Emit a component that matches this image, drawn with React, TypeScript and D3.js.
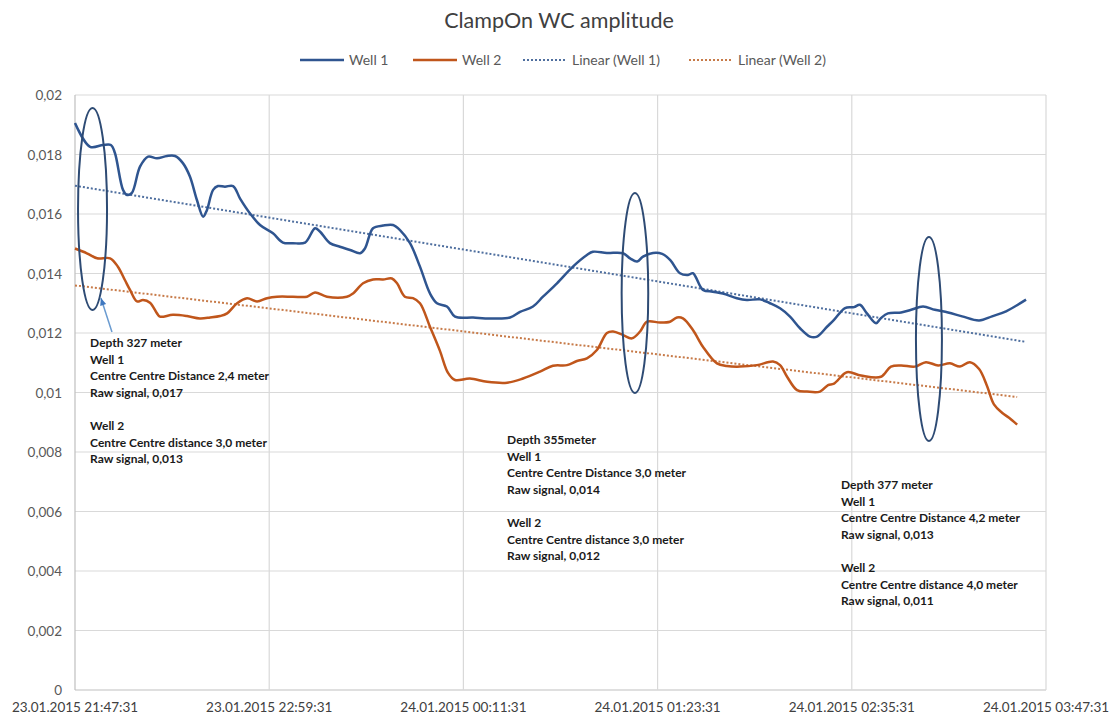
import React from "react";
import * as d3 from "d3";

const START = "23.01.2015 21:47:31";
const xTickLabels = [
  "23.01.2015 21:47:31",
  "23.01.2015 22:59:31",
  "24.01.2015 00:11:31",
  "24.01.2015 01:23:31",
  "24.01.2015 02:35:31",
  "24.01.2015 03:47:31",
];
const yTicks = [0, 0.002, 0.004, 0.006, 0.008, 0.01, 0.012, 0.014, 0.016, 0.018, 0.02];
const yTickLabels = ["0", "0,002", "0,004", "0,006", "0,008", "0,01", "0,012", "0,014", "0,016", "0,018", "0,02"];

// minutes after start
const well1Min = [0, 5.6, 10.4, 13.3, 14.8, 17.8, 19.3, 21.1, 24.1, 27.1, 30.4, 34.1, 37.1, 40, 42.6, 45.2, 47.5, 48.9, 51.2, 53, 55.6, 58.6, 61.2, 64.9, 68.6, 73.4, 77.1, 80.8, 85.3, 89, 90.8, 94.5, 98.2, 102, 105.7, 107.5, 110.5, 114.2, 117.9, 120.5, 124.2, 127.9, 131.6, 134.2, 137.9, 140.9, 147.6, 153.9, 161.3, 165, 169.8, 173.5, 178.7, 184.6, 189.8, 192, 197.2, 203.2, 205.8, 208.4, 210.6, 214.3, 217.7, 220.7, 224.3, 227.3, 229.1, 232.8, 236.5, 240.2, 245.4, 249.1, 254, 257.7, 261.4, 265.1, 268.8, 272.5, 275.1, 278.8, 281.4, 285.5, 288.8, 291, 293.6, 297, 298.8, 301.4, 306.3, 310, 314.4, 318.8, 323.7, 328.9, 335.2, 340, 345.2, 352.6];
const well1Val = [0.01906, 0.01826, 0.01832, 0.01832, 0.01805, 0.01681, 0.01664, 0.01671, 0.01759, 0.01793, 0.01787, 0.01795, 0.01795, 0.01771, 0.01726, 0.01647, 0.01591, 0.01613, 0.01681, 0.01694, 0.01692, 0.01694, 0.01652, 0.01602, 0.01563, 0.01535, 0.01504, 0.01502, 0.01504, 0.01552, 0.01541, 0.01502, 0.0149, 0.01479, 0.01468, 0.01484, 0.01552, 0.01561, 0.01563, 0.01546, 0.01502, 0.01423, 0.01333, 0.013, 0.01289, 0.01255, 0.01252, 0.01249, 0.01252, 0.01271, 0.01289, 0.01322, 0.01367, 0.01423, 0.01462, 0.01473, 0.01469, 0.01468, 0.01451, 0.0144, 0.01457, 0.01469, 0.01466, 0.01445, 0.01401, 0.01395, 0.01401, 0.01345, 0.01339, 0.01333, 0.01317, 0.01311, 0.01313, 0.013, 0.01283, 0.01255, 0.01216, 0.01188, 0.01188, 0.01221, 0.01244, 0.01284, 0.01287, 0.01295, 0.01266, 0.01233, 0.0125, 0.01266, 0.01269, 0.01278, 0.01289, 0.01278, 0.01269, 0.01256, 0.01242, 0.01256, 0.01273, 0.01312];

const well2Min = [0, 4.4, 8.2, 13, 15.9, 18.5, 20.4, 23, 25.2, 27.8, 30.4, 31.5, 36.3, 41.5, 46.3, 50.1, 53.8, 56.4, 60.1, 63.8, 67.5, 71.2, 74.9, 80.8, 86, 89, 93.4, 100.8, 103.1, 106.8, 110.5, 114.2, 117.5, 119.4, 122.3, 125.3, 127.9, 131.6, 135.3, 138.3, 140.9, 146.4, 152.8, 160.2, 166.1, 172.4, 177.2, 182.4, 186.1, 189.8, 193.5, 197.2, 199.5, 203.2, 206.5, 209.5, 212.1, 216.9, 220.6, 223.2, 225.4, 229.1, 232.8, 238, 241.7, 246.5, 252.8, 258.8, 261.4, 264, 267.7, 271.4, 276.2, 279.2, 281.4, 286.2, 291.4, 298.8, 302.5, 306.3, 311.4, 315.5, 320, 324.4, 328.1, 331.8, 335.2, 338.1, 340.7, 343.7, 346.3, 349.3];
const well2Val = [0.01484, 0.01468, 0.01451, 0.01451, 0.01423, 0.01378, 0.01345, 0.01306, 0.01311, 0.01302, 0.01266, 0.01255, 0.01261, 0.01257, 0.01249, 0.01252, 0.01257, 0.01266, 0.013, 0.01317, 0.01306, 0.01317, 0.01322, 0.01322, 0.01322, 0.01336, 0.01322, 0.01322, 0.01333, 0.01367, 0.0138, 0.0138, 0.01383, 0.01367, 0.01322, 0.01317, 0.013, 0.01221, 0.0114, 0.01066, 0.01042, 0.01047, 0.01036, 0.01033, 0.01047, 0.0107, 0.0109, 0.01092, 0.01106, 0.01115, 0.01143, 0.012, 0.01205, 0.01193, 0.01182, 0.01205, 0.01238, 0.01235, 0.01238, 0.01252, 0.01249, 0.0121, 0.01154, 0.01098, 0.01089, 0.01087, 0.01092, 0.01104, 0.01092, 0.01053, 0.01008, 0.01003, 0.01003, 0.01025, 0.0103, 0.01068, 0.01057, 0.01053, 0.01087, 0.01091, 0.01087, 0.01102, 0.01091, 0.01098, 0.01087, 0.01102, 0.01079, 0.01023, 0.0096, 0.00932, 0.00915, 0.00892];

// linear trend endpoints [start, end]
const trend1Min = [0, 352.6];
const trend1Val = [0.01695, 0.0117];
const trend2Min = [0, 349.3];
const trend2Val = [0.0136, 0.00985];

const seriesNames = ["Well 1", "Well 2", "Linear (Well 1)", "Linear (Well 2)"];

// annotation ellipses: centre (minute, value), half-height in value units
const ellMin = [6.5, 207.6, 316.6];
const ellVal = [0.01617, 0.013345, 0.011798];
const ellHalfVal = [0.003395, 0.003361, 0.003429];

const noteMin = [5.6, 160.2, 284];
const noteVal = [0.01153, 0.00827, 0.006756];
const notes = [
  ["Depth 327 meter", "Well 1", "Centre Centre Distance 2,4 meter", "Raw signal, 0,017", "", "Well 2", "Centre Centre distance 3,0 meter", "Raw signal, 0,013"],
  ["Depth 355meter", "Well 1", "Centre Centre Distance 3,0 meter", "Raw signal, 0,014", "", "Well 2", "Centre Centre distance 3,0 meter", "Raw signal, 0,012"],
  ["Depth 377 meter", "Well 1", "Centre Centre Distance 4,2 meter", "Raw signal, 0,013", "", "Well 2", "Centre Centre distance 4,0 meter", "Raw signal, 0,011"],
];
const arrowMin = [13.7, 9.6];
const arrowVal = [0.012034, 0.013176];

const W = 1117, H = 721;
const M = { left: 75, right: 71, top: 95, bottom: 31 };
const BLUE = "#2f5590";
const ORANGE = "#c0561b";
const FONT = "Lato, 'Open Sans', sans-serif";

export default function App() {
  const parse = d3.timeParse("%d.%m.%Y %H:%M:%S");
  const t0 = parse(START) as Date;
  const toDate = (m: number) => new Date(t0.getTime() + m * 60000);
  const tickDates = xTickLabels.map((l) => parse(l) as Date);

  const x = d3.scaleTime().domain([tickDates[0], tickDates[tickDates.length - 1]]).range([M.left, W - M.right]);
  const y = d3.scaleLinear().domain([0, 0.02]).range([H - M.bottom, M.top]);

  const line = d3
    .line<[number, number]>()
    .x((d) => x(toDate(d[0])))
    .y((d) => y(d[1]))
    .curve(d3.curveCatmullRom.alpha(0.5));
  const straight = d3
    .line<[number, number]>()
    .x((d) => x(toDate(d[0])))
    .y((d) => y(d[1]));

  const w1 = well1Min.map((m, i) => [m, well1Val[i]] as [number, number]);
  const w2 = well2Min.map((m, i) => [m, well2Val[i]] as [number, number]);
  const t1 = trend1Min.map((m, i) => [m, trend1Val[i]] as [number, number]);
  const t2 = trend2Min.map((m, i) => [m, trend2Val[i]] as [number, number]);

  const legendX = [300, 413, 523, 689];
  const legendY = 60;
  const legendStyle = [
    { stroke: BLUE, dash: undefined as string | undefined },
    { stroke: ORANGE, dash: undefined },
    { stroke: "#4f6f9f", dash: "2 2" },
    { stroke: "#c77a48", dash: "2 2" },
  ];

  const ax0 = x(toDate(arrowMin[0])), ay0 = y(arrowVal[0]);
  const ax1 = x(toDate(arrowMin[1])), ay1 = y(arrowVal[1]);
  const ang = Math.atan2(ay1 - ay0, ax1 - ax0);
  const ah = 8;
  const arrowHead = [
    [ax1, ay1],
    [ax1 - ah * Math.cos(ang - 0.4), ay1 - ah * Math.sin(ang - 0.4)],
    [ax1 - ah * Math.cos(ang + 0.4), ay1 - ah * Math.sin(ang + 0.4)],
  ];

  return (
    <svg width={W} height={H} style={{ position: "absolute", left: 0, top: 0, background: "#fff" }} fontFamily={FONT}>
      <rect width={W} height={H} fill="#fff" />
      <text x={559} y={28} textAnchor="middle" fontSize={21.5} fill="#404040">ClampOn WC amplitude</text>

      {seriesNames.map((name, i) => (
        <g key={name}>
          <line x1={legendX[i]} x2={legendX[i] + 44} y1={legendY} y2={legendY} stroke={legendStyle[i].stroke} strokeWidth={i < 2 ? 2.5 : 2} strokeDasharray={legendStyle[i].dash} />
          <text x={legendX[i] + 49} y={legendY + 5} fontSize={14} fill="#595959">{name}</text>
        </g>
      ))}

      {/* grid */}
      {yTicks.map((v, i) => (
        <g key={"y" + i}>
          <line x1={M.left} x2={W - M.right} y1={y(v)} y2={y(v)} stroke={i === 0 ? "#bfbfbf" : "#d9d9d9"} strokeWidth={1.2} />
          <text x={62} y={y(v) + 5} textAnchor="end" fontSize={13.5} fill="#595959">{yTickLabels[i]}</text>
        </g>
      ))}
      {tickDates.map((d, i) => (
        <g key={"x" + i}>
          <line x1={x(d)} x2={x(d)} y1={M.top} y2={H - M.bottom} stroke={i === 0 ? "#bfbfbf" : "#d9d9d9"} strokeWidth={1.2} />
          <text x={x(d)} y={712} textAnchor="middle" fontSize={13.5} fill="#404040">{xTickLabels[i]}</text>
        </g>
      ))}

      {/* trend lines */}
      <path d={straight(t1) || ""} fill="none" stroke="#4f6f9f" strokeWidth={2} strokeDasharray="2 2" />
      <path d={straight(t2) || ""} fill="none" stroke="#c77a48" strokeWidth={2} strokeDasharray="2 2" />

      {/* series */}
      <path d={line(w1) || ""} fill="none" stroke={BLUE} strokeWidth={2.5} strokeLinejoin="round" />
      <path d={line(w2) || ""} fill="none" stroke={ORANGE} strokeWidth={2.5} strokeLinejoin="round" />

      {/* ellipses */}
      {ellMin.map((m, i) => {
        const cy = y(ellVal[i]);
        const ry = y(ellVal[i] - ellHalfVal[i]) - cy;
        return <ellipse key={"e" + i} cx={x(toDate(m))} cy={cy} rx={[14.5, 13.3, 13][i]} ry={ry} fill="none" stroke="#2e4b74" strokeWidth={2} />;
      })}

      {/* arrow */}
      <line x1={ax0} y1={ay0} x2={ax1} y2={ay1} stroke="#6a9bd0" strokeWidth={1.5} />
      <polygon points={arrowHead.map((p) => p.join(",")).join(" ")} fill="#3f78c0" />

      {/* notes */}
      {notes.map((lines, i) => (
        <text key={"n" + i} x={x(toDate(noteMin[i]))} y={y(noteVal[i])} fontSize={12} fontWeight={700} fill="#1a1a1a">
          {lines.map((l, j) => (
            <tspan key={j} x={x(toDate(noteMin[i]))} y={y(noteVal[i]) + j * 16.6}>{l}</tspan>
          ))}
        </text>
      ))}
    </svg>
  );
}
